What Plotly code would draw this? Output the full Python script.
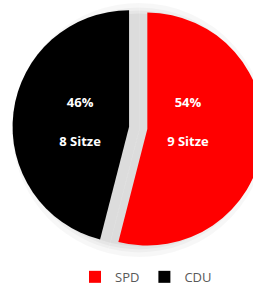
import plotly.graph_objects as go

# ---- data ----
parties = ["SPD", "CDU"]
shares = [54, 46]
seats = [9, 8]
colors = ["#FF0000", "#000000"]

pct_text = [f"{s}%" for s in shares]
seat_text = [f"{n} Sitze" for n in seats]

# ---- layout helpers (pixels) ----
W, H = 268, 287


def domain(cx, cy, half):
    return dict(x=[(cx - half) / W, (cx + half) / W],
                y=[(H - (cy + half)) / H, (H - (cy - half)) / H])


# main pie geometry
CX, CY, R, PULL = 138.2, 127.9, 116.5, 0.079
# rotation that makes slice bisectors horizontal (for label placement)
total = sum(shares)
label_rot = 90 - 360 * shares[0] / total / 2

fig = go.Figure()

# soft shadow (decorative, layered translucent discs under the pie)
for rad, alpha in [(127, 0.03), (122.5, 0.03), (119.5, 0.035), (116.5, 0.045)]:
    fig.add_trace(go.Pie(
        labels=parties, values=shares, sort=False, direction="clockwise",
        marker=dict(colors=[f"rgba(0,0,0,{alpha})"] * len(parties), line=dict(width=0)),
        textinfo="none", hoverinfo="skip", showlegend=False,
        domain=domain(CX + 1, CY + 2, rad),
    ))

# main pie
fig.add_trace(go.Pie(
    labels=parties,
    values=shares,
    textinfo="none",
    marker=dict(colors=colors, line=dict(width=0)),
    sort=False,
    direction="clockwise",
    rotation=0,
    pull=[PULL] * len(parties),
    domain=domain(CX, CY, R * (1 + PULL)),
))

# label layers (transparent pies carrying the text)
RT = 60
LD = 54
lpull = LD / RT - 0.502
for txt, ty in [(pct_text, 101.5), (seat_text, 141)]:
    fig.add_trace(go.Pie(
        labels=parties, values=shares, sort=False, direction="clockwise",
        rotation=label_rot,
        pull=[lpull] * len(parties),
        marker=dict(colors=["rgba(0,0,0,0)"] * len(parties), line=dict(width=0)),
        text=txt, textinfo="text", textposition="inside",
        insidetextorientation="horizontal",
        textfont=dict(family="Open Sans", size=13, color="white", weight="bold"),
        hoverinfo="skip", showlegend=False,
        domain=domain(134.2, ty, RT * (1 + lpull)),
    ))

fig.update_layout(
    width=W,
    height=H,
    margin=dict(l=0, r=0, t=0, b=0, autoexpand=False),
    paper_bgcolor="white",
    showlegend=True,
    legend=dict(orientation="h", x=146 / W, xanchor="center", y=-0.017, yanchor="bottom",
                font=dict(family="Open Sans", size=13, color="#595959"),
                itemwidth=30, traceorder="normal"),
)
fig.write_html("out.html", config={"displayModeBar": False},
               post_script="document.body.style.margin='0';")
